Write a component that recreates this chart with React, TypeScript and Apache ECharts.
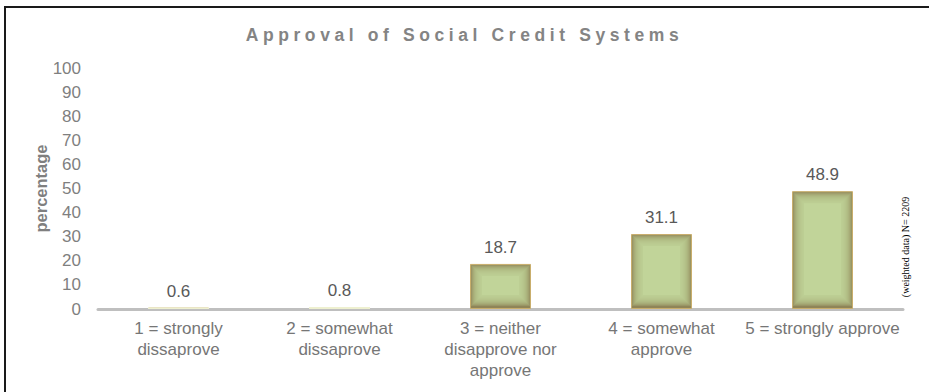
import React, { useEffect, useRef } from "react";
import * as echarts from "echarts";

const title = "Approval of Social Credit Systems";
const yAxisName = "percentage";
const categories = [
  "1 = strongly\ndissaprove",
  "2 = somewhat\ndissaprove",
  "3 = neither\ndisapprove nor\napprove",
  "4 = somewhat\napprove",
  "5 = strongly approve",
];
const values = [0.6, 0.8, 18.7, 31.1, 48.9];
const note = "(weighted data) N= 2209";
const yMin = 0;
const yMax = 100;
const yStep = 10;

const BAR_W = 61;
const SANS = '"Liberation Sans", Arial, Helvetica, sans-serif';
const SERIF = '"Liberation Serif", "Times New Roman", serif';

export default function App() {
  const ref = useRef<HTMLDivElement>(null);
  useEffect(() => {
    if (!ref.current) return;
    const chart = echarts.init(ref.current, undefined, { renderer: "svg" });
    const option: any = {
      animation: false,
      backgroundColor: "#ffffff",
      title: {
        text: title,
        left: "center",
        top: 21,
        textStyle: {
          fontFamily: SANS,
          fontSize: 17.5,
          fontWeight: "bold",
          color: "#848484",
        },
      },
      grid: { left: 98, right: 26, top: 68, bottom: 83, containLabel: false },
      xAxis: {
        type: "category",
        data: categories,
        axisLine: { show: true, lineStyle: { color: "#bfbfbf", width: 3 } },
        axisTick: { show: false },
        axisLabel: {
          interval: 0,
          margin: 9,
          fontFamily: SANS,
          fontSize: 17,
          lineHeight: 21,
          color: "#767676",
          align: "center",
        },
      },
      yAxis: {
        type: "value",
        min: yMin,
        max: yMax,
        interval: yStep,
        name: yAxisName,
        nameLocation: "middle",
        nameRotate: 90,
        nameGap: 49,
        nameMoveOverlap: false,
        nameTextStyle: {
          fontFamily: SANS,
          fontSize: 16.5,
          fontWeight: "bold",
          color: "#7f7f7f",
        },
        axisLine: { show: false },
        axisTick: { show: false },
        splitLine: { show: false },
        axisLabel: {
          margin: 17,
          fontFamily: SANS,
          fontSize: 17,
          color: "#7f7f7f",
        },
      },
      series: [
        {
          type: "bar",
          data: values,
          barWidth: BAR_W,
          itemStyle: {
            color: "#8f8558",
            borderColor: "#c9ae6c",
            borderWidth: 1,
          },
          label: {
            show: true,
            position: "top",
            distance: 8,
            fontFamily: SANS,
            fontSize: 17,
            color: "#595959",
          },
          z: 2,
        },
        {
          type: "custom",
          silent: true,
          z: 3,
          clip: false,
          data: values.map((v, i) => [i, v]),
          encode: { x: 0, y: 1 },
          renderItem: (params: any, api: any) => {
            const top = api.coord([api.value(0), api.value(1)]);
            const bot = api.coord([api.value(0), 0]);
            const x0 = top[0] - BAR_W / 2;
            const h = bot[1] - top[1];
            const children: any[] = [];
            if (h < 5) {
              children.push({
                type: "rect",
                shape: { x: x0, y: top[1], width: BAR_W, height: h },
                style: { fill: "#eef0d0" },
              });
            } else {
              for (let k = 1; k <= 12; k++) {
                const w = BAR_W - 2 * k;
                const hh = h - 2 * k - 2;
                if (w <= 0 || hh <= 0) break;
                children.push({
                  type: "rect",
                  shape: { x: x0 + k, y: top[1] + k, width: w, height: hh },
                  style: { fill: "#c5d89c", opacity: k === 12 ? 0.6 : 0.2 },
                });
              }
            }
            return { type: "group", children };
          },
        },
      ],
      graphic: [
        {
          type: "rect",
          silent: true,
          z: -1,
          shape: { x: 5, y: 7, width: 960, height: 420 },
          style: { fill: "none", stroke: "#1a1a1a", lineWidth: 2 },
        },
        {
          type: "text",
          x: 905,
          y: 247,
          rotation: Math.PI / 2,
          silent: true,
          style: {
            text: note,
            fontFamily: SERIF,
            fontSize: 10,
            fill: "#000000",
            align: "center",
            verticalAlign: "middle",
          },
        },
      ],
    };
    chart.setOption(option);
    return () => chart.dispose();
  }, []);
  return (
    <>
      <style>{`#cht text[style*="17.5px"]{letter-spacing:4.6px;}`}</style>
      <div
        id="cht"
        ref={ref}
        style={{
          position: "absolute",
          left: 0,
          top: 0,
          width: 929,
          height: 392,
          background: "#fff",
        }}
      />
    </>
  );
}
